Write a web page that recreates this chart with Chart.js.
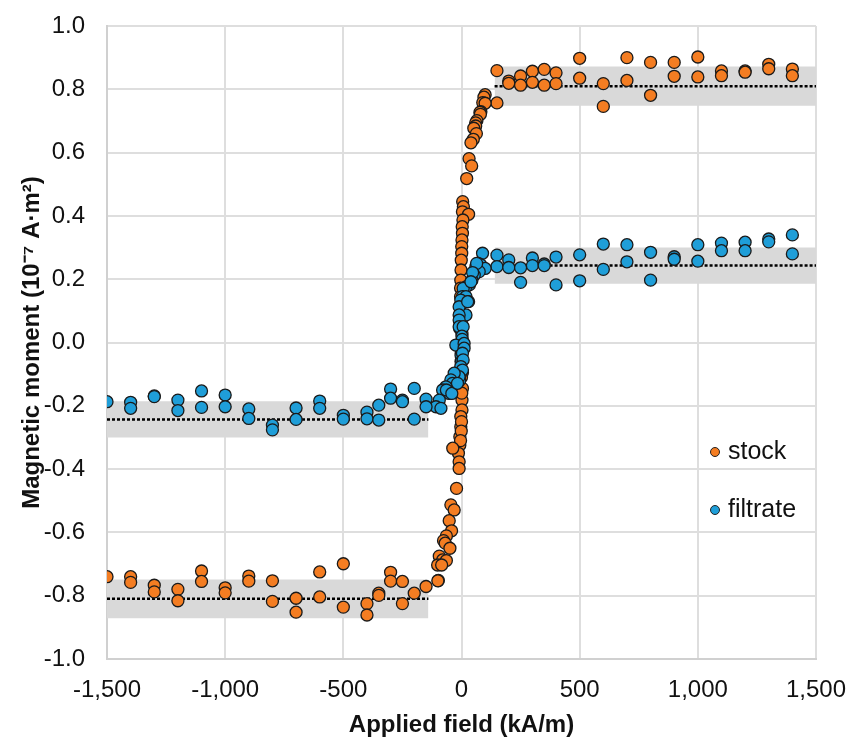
<!DOCTYPE html>
<html>
<head>
<meta charset="utf-8">
<script src="https://cdn.jsdelivr.net/npm/chart.js@4/dist/chart.umd.min.js"></script>
<style>
  body { margin: 0; background: #fff; }
</style>
</head>
<body>
<canvas id="hyst" width="851" height="740"></canvas>
<script>
// applied field (kA/m) and magnetic moment (1e-7 A m^2)
var stockField = [
  150, 150, 200, 200, 250, 250, 300, 300, 350, 350, 400, 400, 500, 500, 600, 600,
  700, 700, 800, 800, 900, 900, 1000, 1000, 1100, 1100, 1200, 1200, 1300, 1300, 1400, 1400,
  100, 95, 90, 100, 82, 78, 80, 65, 60, 60, 52, 63, 50, 40, 32, 43, 22,
  5, 8, 4, 30, 6, 3, 4, 2, 1, 1, -1, -2, -3, -4, -4, -2, 0, 0, 2, 0, -1, -2,
  4, 4, 2, 2, -3, -3, -7, -7, -13, -10, -10, 0, 1, 0, -1, -4,
  -37, -21, -45, -31, -52, -42, -64, -76, -69, -49, -94, -80, -64, -101, -84, -98,
  -1500, -1400, -1400, -1300, -1300, -1200, -1200, -1100, -1100, -1000, -1000, -900, -900,
  -800, -800, -700, -700, -600, -600, -500, -500, -400, -400, -350, -350, -300, -300,
  -250, -250, -200, -150, -100
];
var stockMoment = [
  0.859, 0.757, 0.826, 0.819, 0.842, 0.813, 0.857, 0.822, 0.863, 0.813, 0.852, 0.818, 0.898, 0.835, 0.818, 0.746,
  0.900, 0.828, 0.885, 0.781, 0.885, 0.841, 0.902, 0.839, 0.858, 0.843, 0.858, 0.854, 0.879, 0.865, 0.864, 0.843,
  0.783, 0.775, 0.758, 0.756, 0.729, 0.727, 0.721, 0.701, 0.694, 0.684, 0.677, 0.660, 0.642, 0.631, 0.581, 0.558, 0.518,
  0.445, 0.429, 0.413, 0.405, 0.387, 0.366, 0.345, 0.324, 0.303, 0.282, 0.260, 0.229, 0.197, 0.172, 0.145, 0.120, 0.090, 0.060, 0.030, 0.000, -0.030, -0.060,
  -0.095, -0.145, -0.182, -0.213, -0.234, -0.266, -0.298, -0.324, -0.350, -0.377, -0.398, -0.110, -0.160, -0.250, -0.280, -0.310,
  -0.334, -0.461, -0.513, -0.529, -0.563, -0.595, -0.611, -0.626, -0.634, -0.650, -0.675, -0.687, -0.689, -0.703, -0.703, -0.752,
  -0.740, -0.740, -0.758, -0.767, -0.788, -0.780, -0.816, -0.722, -0.755, -0.775, -0.791, -0.738, -0.754,
  -0.753, -0.818, -0.808, -0.852, -0.725, -0.804, -0.699, -0.836, -0.825, -0.861, -0.792, -0.799, -0.726, -0.754,
  -0.755, -0.825, -0.792, -0.771, -0.753
];

var filtrateField = [
  150, 150, 200, 200, 250, 250, 300, 300, 350, 350, 400, 400, 500, 500, 600, 600,
  700, 700, 800, 800, 900, 900, 1000, 1000, 1100, 1100, 1200, 1200, 1300, 1300, 1400, 1400,
  89, 71, 82, 100, 61, 75, 54, 44, 33, 19, 7, 4, 19, 30, -3, 19, -10, -10, -10, -8, -10,
  64, 47, 40, 26, 7,
  2, 0, 3, -2, 0, -5, -8,
  -24, 11, 11, 4, 7, -3, 4, -10, -31, -45, -38, -66, -80, -52, -94, -108, -87, -64, -41, -17,
  -1500, -1400, -1400, -1300, -1300, -1200, -1200, -1100, -1100, -1000, -1000, -900, -900,
  -800, -800, -700, -700, -600, -600, -500, -500, -400, -400, -350, -350, -300, -300,
  -250, -250, -200, -200, -150, -150
];
var filtrateMoment = [
  0.276, 0.240, 0.261, 0.237, 0.236, 0.190, 0.267, 0.243, 0.248, 0.243, 0.270, 0.182, 0.277, 0.195, 0.311, 0.231,
  0.309, 0.255, 0.285, 0.197, 0.271, 0.263, 0.309, 0.257, 0.314, 0.290, 0.317, 0.290, 0.327, 0.318, 0.340, 0.280,
  0.282, 0.250, 0.245, 0.234, 0.240, 0.224, 0.213, 0.197, 0.182, 0.176, 0.171, 0.145, 0.145, 0.129, 0.134, 0.087, 0.113, 0.087, 0.071, 0.045, 0.050,
  0.250, 0.221, 0.192, 0.129, 0.050,
  0.020, 0.000, 0.010, -0.040, -0.060, -0.100, -0.120,
  -0.008, -0.003, -0.018, -0.034, -0.055, -0.076, -0.087, -0.108, -0.097, -0.118, -0.129, -0.140, -0.150, -0.161, -0.182, -0.203, -0.208, -0.150, -0.161, -0.129,
  -0.187, -0.189, -0.208, -0.169, -0.171, -0.182, -0.215, -0.153, -0.205, -0.166, -0.203, -0.210, -0.240,
  -0.261, -0.276, -0.207, -0.243, -0.185, -0.208, -0.230, -0.242, -0.220, -0.241, -0.198, -0.245, -0.147, -0.176,
  -0.182, -0.187, -0.145, -0.242, -0.179, -0.203
];

// saturation levels (dotted) and their spread (grey bands)
var satLevel = [0.81, 0.243, -0.243, -0.81];
var satSpread = [0.062, 0.057, 0.057, 0.061];
var satFrom = [140, 140, -1500, -1500];
var satTo = [1500, 1500, -140, -140];

var seriesNames = ['stock', 'filtrate'];

function pts(xs, ys) {
  return xs.map(function (x, i) { return { x: x, y: ys[i] }; });
}

var FONT = '"Liberation Sans", Arial, sans-serif';
var ORANGE = '#f47d22';
var BLUE = '#1f9ed8';

var datasets = [];
satLevel.forEach(function (lvl, i) {
  datasets.push({
    type: 'line',
    data: [{ x: satFrom[i], y: lvl + satSpread[i] }, { x: satTo[i], y: lvl + satSpread[i] }],
    borderWidth: 0,
    pointRadius: 0,
    backgroundColor: '#d9d9d9',
    fill: { target: { value: lvl - satSpread[i] } },
    order: 10
  });
  datasets.push({
    type: 'line',
    data: [{ x: satFrom[i], y: lvl }, { x: satTo[i], y: lvl }],
    borderColor: '#000',
    borderWidth: 2.5,
    borderDash: [3, 2],
    pointRadius: 0,
    fill: false,
    order: 9
  });
});
datasets.push({
  label: seriesNames[0],
  data: pts(stockField, stockMoment),
  backgroundColor: ORANGE,
  borderColor: '#1a1a1a',
  borderWidth: 1.3,
  pointRadius: 6,
  order: 2
});
datasets.push({
  label: seriesNames[1],
  data: pts(filtrateField, filtrateMoment),
  backgroundColor: BLUE,
  borderColor: '#1a1a1a',
  borderWidth: 1.3,
  pointRadius: 6,
  order: 1
});

// legend sits inside the plot area, lower right
var insideLegend = {
  id: 'insideLegend',
  afterDraw: function (chart) {
    var c = chart.ctx, a = chart.chartArea;
    var cols = [ORANGE, BLUE];
    c.save();
    c.font = '25px ' + FONT;
    c.textBaseline = 'middle';
    seriesNames.forEach(function (name, i) {
      var y = a.top + 426 + i * 58;
      c.beginPath();
      c.arc(a.right - 101, y, 4.5, 0, Math.PI * 2);
      c.fillStyle = cols[i];
      c.fill();
      c.lineWidth = 1;
      c.strokeStyle = '#222';
      c.stroke();
      c.fillStyle = '#111';
      c.fillText(name, a.right - 88, y);
    });
    c.restore();
  }
};

new Chart(document.getElementById('hyst'), {
  type: 'scatter',
  data: { datasets: datasets },
  plugins: [insideLegend],
  options: {
    responsive: false,
    animation: false,
    layout: { padding: { top: 26, right: 35, left: 0, bottom: 0 } },
    plugins: { legend: { display: false }, tooltip: { enabled: false } },
    scales: {
      x: {
        type: 'linear',
        min: -1500,
        max: 1500,
        afterFit: function (s) { s.height = 81; s.paddingLeft = 0; s.paddingRight = 0; },
        ticks: { stepSize: 500, color: '#111', padding: 17, font: { family: FONT, size: 24 } },
        grid: { color: '#dedede', lineWidth: 2, drawTicks: false },
        border: { color: '#d0d0d0', width: 2 },
        title: {
          display: true,
          text: 'Applied field (kA/m)',
          color: '#111',
          font: { family: FONT, size: 24, weight: 'bold' },
          padding: { top: 0, bottom: 0 }
        }
      },
      y: {
        min: -1,
        max: 1,
        afterFit: function (s) { s.width = 107; s.paddingTop = 0; s.paddingBottom = 0; },
        ticks: {
          stepSize: 0.2,
          color: '#111',
          padding: 22,
          font: { family: FONT, size: 24 },
          callback: function (v) { return v.toFixed(1); }
        },
        grid: { color: '#dedede', lineWidth: 2, drawTicks: false },
        border: { color: '#d0d0d0', width: 2 },
        title: {
          display: true,
          text: 'Magnetic moment (10⁻⁷ A·m²)',
          color: '#111',
          font: { family: FONT, size: 24, weight: 'bold' },
          padding: { top: 18, bottom: 0 }
        }
      }
    }
  }
});
</script>
</body>
</html>
